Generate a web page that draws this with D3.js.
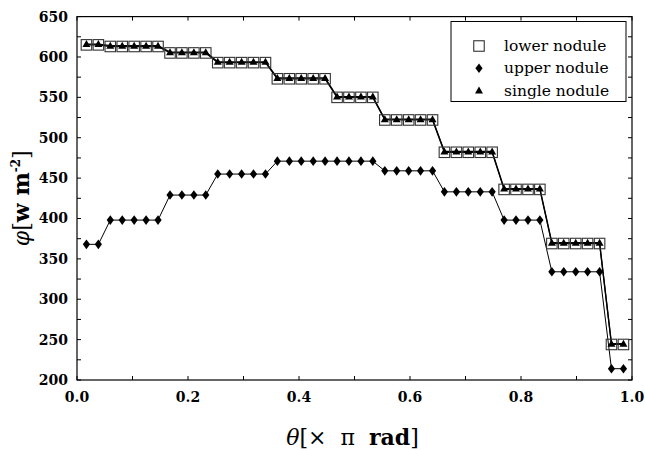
<!DOCTYPE html>
<html><head><meta charset="utf-8">
<script src="https://cdn.jsdelivr.net/npm/d3@7"></script>
<style>body{margin:0;background:#fff;} svg{display:block;}</style>
</head><body>
<svg id="c" width="645" height="450"></svg>
<script>
const theta = [0.017,0.0385,0.060,0.0815,0.103,0.1245,0.146,0.1676,0.189,0.2106,0.232,0.2536,0.275,0.2966,0.318,0.3396,0.361,0.3826,0.404,0.4256,0.447,0.4686,0.490,0.5116,0.533,0.5546,0.576,0.5976,0.619,0.6406,0.662,0.6836,0.705,0.7266,0.748,0.7696,0.791,0.8126,0.834,0.8556,0.877,0.8986,0.920,0.9416,0.963,0.9846];
const lowerNodule = [615,615, 613,613,613,613,613, 605,605,605,605, 593,593,593,593,593, 573,573,573,573,573, 550,550,550,550, 522,522,522,522,522, 482,482,482,482,482, 436,436,436,436, 369,369,369,369,369, 244,244];
const upperNodule = [368,368, 398,398,398,398,398, 429,429,429,429, 455,455,455,455,455, 471,471,471,471,471, 471,471,471,471, 459,459,459,459,459, 433,433,433,433,433, 398,398,398,398, 334,334,334,334,334, 214,214];
const singleNodule = [616,616, 614,614,614,614,614, 606,606,606,606, 594,594,594,594,594, 574,574,574,574,574, 551,551,551,551, 523,523,523,523,523, 483,483,483,483,483, 437,437,437,437, 370,370,370,370,370, 245,245];
const xTicks = [0,0.2,0.4,0.6,0.8,1.0];
const yTicks = [200,250,300,350,400,450,500,550,600,650];
const legendLabels = ["lower nodule","upper nodule","single nodule"];

const svg = d3.select("#c");
const L=77, R=632, T=16.6, B=380;
const x = d3.scaleLinear().domain([0,1]).range([L,R]);
const y = d3.scaleLinear().domain([200,650]).range([B,T]);
const font = "'DejaVu Serif', serif";

// frame
svg.append("rect").attr("x",L).attr("y",T).attr("width",R-L).attr("height",B-T)
  .attr("fill","none").attr("stroke","#000").attr("stroke-width",1.2);

// ticks (inward) on all sides
const xMinor = d3.range(0,1.0001,0.1);
const yMinor = d3.range(200,650.1,25);
const tk = svg.append("g").attr("stroke","#000").attr("stroke-width",1);
xMinor.forEach(v=>{
  tk.append("line").attr("x1",x(v)).attr("x2",x(v)).attr("y1",B).attr("y2",B-4);
  tk.append("line").attr("x1",x(v)).attr("x2",x(v)).attr("y1",T).attr("y2",T+4);
});
yMinor.forEach(v=>{
  tk.append("line").attr("x1",L).attr("x2",L+4).attr("y1",y(v)).attr("y2",y(v));
  tk.append("line").attr("x1",R).attr("x2",R-4).attr("y1",y(v)).attr("y2",y(v));
});

// tick labels
svg.append("g").selectAll("text").data(xTicks).join("text")
  .attr("x",d=>x(d)).attr("y",B+22).attr("text-anchor","middle")
  .attr("font-family",font).attr("font-weight","bold").attr("font-size",14)
  .text(d=>d.toFixed(1));
svg.append("g").selectAll("text").data(yTicks).join("text")
  .attr("x",L-9).attr("y",d=>y(d)+5).attr("text-anchor","end")
  .attr("font-family",font).attr("font-weight","bold").attr("font-size",14)
  .text(d=>d);

// axis titles
const xt = svg.append("text").attr("x",(L+R)/2-2).attr("y",445).attr("text-anchor","middle")
  .attr("font-family",font).attr("font-size",22).attr("xml:space","preserve");
xt.append("tspan").attr("font-style","italic").text("θ");
xt.append("tspan").text("[×  π  ");
xt.append("tspan").attr("font-weight","bold").text("rad");
xt.append("tspan").text("]");

const yt = svg.append("text").attr("transform",`translate(29,${(T+B)/2}) rotate(-90)`)
  .attr("text-anchor","middle").attr("font-family",font).attr("font-size",22).attr("xml:space","preserve");
yt.append("tspan").attr("font-style","italic").text("φ");
yt.append("tspan").text("[");
yt.append("tspan").attr("font-weight","bold").text("w m");
yt.append("tspan").attr("font-size",12).attr("dy",-9).attr("font-weight","bold").text("-2");
yt.append("tspan").attr("dy",9).text("]");

const line = d3.line().x(d=>x(d[0])).y(d=>y(d[1]));
const lowerPts = theta.map((t,i)=>[t,lowerNodule[i]]);
const upperPts = theta.map((t,i)=>[t,upperNodule[i]]);
const singlePts = theta.map((t,i)=>[t,singleNodule[i]]);

svg.append("path").attr("d",line(upperPts)).attr("fill","none").attr("stroke","#000").attr("stroke-width",1);
svg.append("path").attr("d",line(lowerPts)).attr("fill","none").attr("stroke","#000").attr("stroke-width",1.3);
svg.append("path").attr("d",line(singlePts)).attr("fill","none").attr("stroke","#000").attr("stroke-width",1.3);

const sq = 10.5;
function square(g,cx,cy){ g.append("rect").attr("x",cx-sq/2).attr("y",cy-sq/2).attr("width",sq).attr("height",sq)
  .attr("fill","none").attr("stroke","#333").attr("stroke-width",1.1); }
function diamond(g,cx,cy){ g.append("path").attr("d",`M${cx},${cy-4.8}L${cx+3.6},${cy}L${cx},${cy+4.8}L${cx-3.6},${cy}Z`).attr("fill","#000"); }
function tri(g,cx,cy){ g.append("path").attr("d",`M${cx},${cy-4}L${cx+4},${cy+3}L${cx-4},${cy+3}Z`).attr("fill","#000"); }

const gm = svg.append("g");
lowerPts.forEach(p=>square(gm,x(p[0]),y(p[1])));
upperPts.forEach(p=>diamond(gm,x(p[0]),y(p[1])));
singlePts.forEach(p=>tri(gm,x(p[0]),y(p[1])));

// legend
const lg = svg.append("g");
lg.append("rect").attr("x",451).attr("y",21.5).attr("width",175).attr("height",80)
  .attr("fill","#fff").attr("stroke","#000").attr("stroke-width",1);
const markers=[square,diamond,tri];
legendLabels.forEach((lab,i)=>{
  const cy = 46 + i*22.3;
  markers[i](lg,479,cy);
  lg.append("text").attr("x",504).attr("y",cy+5).attr("font-family",font).attr("font-size",15.5).text(lab);
});
</script>
</body></html>
